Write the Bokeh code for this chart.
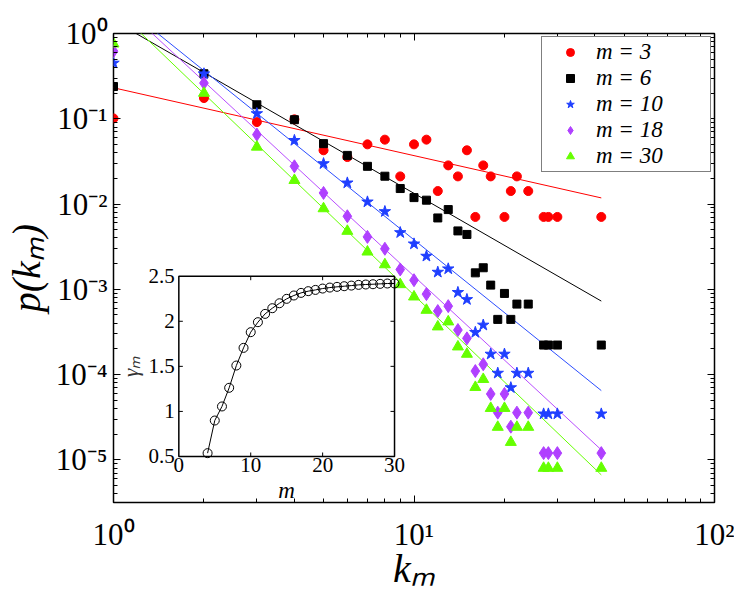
from bokeh.plotting import figure
from bokeh.models import (Range1d, LinearScale, LogAxis, FixedTicker, CustomJSTickFormatter,
                          Legend, LegendItem)
from bokeh.core.properties import value
from bokeh.embed import file_html
from bokeh.resources import INLINE
import math

FONT = "Liberation Serif"

# ---------------- data ----------------
k_m3 = [1, 2, 3, 4, 5, 6, 7, 8, 9, 10, 11, 12, 13, 14, 15, 16, 17, 18, 20, 21, 22, 24, 27, 28, 30, 42]
p_m3 = [0.101, 0.175, 0.0914, 0.0984, 0.0427, 0.0356, 0.0501, 0.0569, 0.0211, 0.0501, 0.0569, 0.0142,
        0.0284, 0.0211, 0.0427, 0.00706, 0.0284, 0.0211, 0.00706, 0.0142, 0.0211, 0.0142,
        0.00706, 0.00706, 0.00706, 0.00706]

k_all = [1, 2, 3, 4, 5, 6, 7, 8, 9, 10, 11, 12, 13, 14, 15, 16, 17, 18, 19, 20, 21, 22, 24, 27, 28, 30, 42]
p_m6 = [0.239, 0.337, 0.146, 0.0975, 0.0511, 0.0372, 0.0277, 0.0212, 0.0152, 0.0119, 0.0111, 0.00687,
        0.00861, 0.00484, 0.00440, 0.00156, 0.00179, 0.00112, 0.000444, 0.000895, 0.000444, 0.000671,
        0.000671, 0.000222, 0.000222, 0.000222, 0.000222]
p_m10 = [0.450, 0.337, 0.115, 0.0558, 0.0298, 0.0177, 0.0106, 0.00817, 0.00463, 0.00341, 0.00245,
         0.00159, 0.00174, 0.00092, 0.00076, 0.000313, 0.000381, 0.000174, 0.000104, 0.000174,
         0.0000703, 0.000104, 0.000104, 0.0000346, 0.0000346, 0.0000346, 0.0000346]
p_m18 = [0.621, 0.262, 0.0652, 0.0277, 0.0135, 0.00719, 0.00412, 0.00299, 0.00171, 0.00128, 0.000879,
         0.000556, 0.000635, 0.000333, 0.000266, 0.000110, 0.000132, 0.0000593, 0.0000358, 0.0000593,
         0.0000245, 0.0000358, 0.0000358, 0.0000120, 0.0000120, 0.0000120, 0.0000120]
p_m30 = [0.757, 0.200, 0.0467, 0.0190, 0.00885, 0.00481, 0.00275, 0.00195, 0.00114, 0.000817, 0.000570,
         0.000364, 0.000417, 0.000212, 0.000174, 0.0000710, 0.0000881, 0.0000403, 0.0000242, 0.0000403,
         0.0000161, 0.0000242, 0.0000242, 0.0000080, 0.0000080, 0.0000080, 0.0000080]

# fitted power-law lines (end points)
fit_k = [1, 42]
fit_m3 = [0.231, 0.0118]
fit_m6 = [1.42, 0.000728]
fit_m10 = [2.62, 0.0000649]
fit_m18 = [2.64, 0.0000131]
fit_m30 = [2.05, 0.00000667]

legend_labels = ["m = 3", "m = 6", "m = 10", "m = 18", "m = 30"]

# inset: exponent gamma_m versus m
inset_m = list(range(4, 31))
inset_gamma = [0.537, 0.899, 1.055, 1.262, 1.509, 1.705, 1.879, 1.99, 2.082, 2.145, 2.2, 2.249, 2.286,
               2.315, 2.334, 2.348, 2.363, 2.374, 2.382, 2.389, 2.396, 2.404, 2.408, 2.411, 2.415,
               2.419, 2.419]
inset_xticks = [0, 10, 20, 30]
inset_yticks = [0.5, 1, 1.5, 2, 2.5]

x_major = [1, 10, 100]
y_major = [10.0 ** e for e in range(-5, 1)]

# ---------------- main figure ----------------
FW, FH = 601, 469
p = figure(x_axis_type="log", y_axis_type="log",
           x_range=Range1d(1, 100), y_range=Range1d(10 ** -5.5, 1),
           output_backend="svg", toolbar_location=None,
           frame_width=FW, frame_height=FH,
           min_border_left=110, min_border_right=20, min_border_top=33, min_border_bottom=72)
p.grid.visible = False
p.outline_line_color = "black"
p.outline_line_width = 1.5
p.background_fill_color = "white"
p.border_fill_color = "white"

sup_code = """
const sup = {"-":"\u207b","0":"\u2070","1":"\u00b9","2":"\u00b2","3":"\u00b3","4":"\u2074",
             "5":"\u2075","6":"\u2076","7":"\u2077","8":"\u2078","9":"\u2079"};
const e = Math.round(Math.log10(tick));
return "10" + String(e).split("").map(c => sup[c]).join("");
"""

xt = FixedTicker(ticks=x_major, minor_ticks=[d * m for d in x_major[:-1] for m in range(2, 10)])
yt = FixedTicker(ticks=y_major, minor_ticks=[m * 10.0 ** e for e in range(-6, 0) for m in range(2, 10)])

xb = p.below[0]
yl = p.left[0]
xb.ticker = xt
yl.ticker = yt
xb.formatter = CustomJSTickFormatter(code=sup_code)
yl.formatter = CustomJSTickFormatter(code=sup_code)

xa = LogAxis(ticker=xt, major_label_text_font_size="6px", major_label_text_color=None,
             major_label_standoff=0)
yr = LogAxis(ticker=yt, major_label_text_font_size="6px", major_label_text_color=None,
             major_label_standoff=0)
p.add_layout(xa, "above")
p.add_layout(yr, "right")

for ax in (xb, yl, xa, yr):
    ax.axis_line_color = None
    ax.major_tick_in = 7
    ax.major_tick_out = 0
    ax.minor_tick_in = 4
    ax.minor_tick_out = 0
    ax.major_tick_line_color = "black"
    ax.minor_tick_line_color = "black"
    ax.major_tick_line_width = 1
    ax.minor_tick_line_width = 1

for ax in (xb, yl):
    ax.major_label_text_font = FONT
    ax.major_label_text_font_size = "31px"
    ax.major_label_text_color = "black"
    ax.axis_label_text_font = FONT
    ax.axis_label_text_font_style = "italic"
    ax.axis_label_text_font_size = "40px"
    ax.axis_label_text_color = "black"

xb.major_label_standoff = 14
xb.axis_label = "k\u2098"
xb.axis_label_standoff = -9
yl.major_label_standoff = 6
yl.axis_label = "p(k\u2098)"
yl.axis_label_standoff = 4

# fit lines
line_specs = [(fit_m3, "#ff0000"), (fit_m6, "#000000"), (fit_m10, "#2b4dff"),
              (fit_m18, "#b84dff"), (fit_m30, "#66ff00")]
for fy, col in line_specs:
    p.line(fit_k, fy, line_color=col, line_width=1)

# markers
r3 = p.scatter(k_m3, p_m3, marker="circle", size=9, fill_color="#ff0000", line_color="#ff0000")
r6 = p.scatter(k_all, p_m6, marker="square", size=8, fill_color="#000000", line_color="#000000")
r10 = p.scatter(k_all, p_m10, marker="star", size=12, fill_color="#1f3fff", line_color="#1f3fff")
r18 = p.scatter(k_all, p_m18, marker="diamond", size=13, fill_color="#b040ff", line_color="#b040ff")
r30 = p.scatter(k_all, p_m30, marker="triangle", size=11, fill_color="#66ff00", line_color="#66ff00")

legend = Legend(items=[LegendItem(label=lab, renderers=[r]) for lab, r in
                       zip(legend_labels, [r3, r6, r10, r18, r30])],
                location="top_right", margin=3, padding=2, spacing=0,
                glyph_width=52, glyph_height=20, label_standoff=0, label_width=112,
                label_text_font=FONT, label_text_font_style="italic", label_text_font_size="23px",
                label_text_color="black", border_line_color="black", border_line_width=1,
                background_fill_color="white", background_fill_alpha=1)
p.add_layout(legend)

# ---------------- inset (own linear scales inside the main frame) ----------------
# inset frame placement as fractions of the main frame
IX0, IX1, IY0, IY1 = 0.1087, 0.4676, 0.0981, 0.4825
xr_span = (inset_xticks[-1] - inset_xticks[0]) / (IX1 - IX0)
yr_span = (inset_yticks[-1] - inset_yticks[0]) / (IY1 - IY0)
ix0 = inset_xticks[0] - IX0 * xr_span
iy0 = inset_yticks[0] - IY0 * yr_span
p.extra_x_ranges = {"ix": Range1d(ix0, ix0 + xr_span)}
p.extra_y_ranges = {"iy": Range1d(iy0, iy0 + yr_span)}
p.extra_x_scales = {"ix": LinearScale()}
p.extra_y_scales = {"iy": LinearScale()}
px_x = FW / xr_span  # pixels per inset x unit
px_y = FH / yr_span  # pixels per inset y unit
kw = dict(x_range_name="ix", y_range_name="iy")

ixa, ixb = inset_xticks[0], inset_xticks[-1]
iya, iyb = inset_yticks[0], inset_yticks[-1]
p.quad(left=[ixa], right=[ixb], bottom=[iya], top=[iyb], fill_color="white",
       line_color="black", line_width=1.5, **kw)

tl = 4.0
inner_x = inset_xticks[1:-1]
inner_y = inset_yticks[1:-1]
p.segment(x0=inner_x + inner_x, x1=inner_x + inner_x,
          y0=[iya] * len(inner_x) + [iyb] * len(inner_x),
          y1=[iya + tl / px_y] * len(inner_x) + [iyb - tl / px_y] * len(inner_x),
          line_color="black", line_width=1, **kw)
p.segment(y0=inner_y + inner_y, y1=inner_y + inner_y,
          x0=[ixa] * len(inner_y) + [ixb] * len(inner_y),
          x1=[ixa + tl / px_x] * len(inner_y) + [ixb - tl / px_x] * len(inner_y),
          line_color="black", line_width=1, **kw)

p.line(inset_m, inset_gamma, line_color="black", line_width=1, **kw)
p.scatter(inset_m, inset_gamma, marker="circle", size=9, fill_color=None,
          line_color="black", line_width=1, **kw)

p.text(x=[ixa] * len(inset_yticks), y=inset_yticks, text=[f"{t:g}" for t in inset_yticks],
       x_offset=-4, text_align="right", text_baseline="middle",
       text_font=value(FONT), text_font_size="21px", text_color="black", **kw)
p.text(x=inset_xticks, y=[iya] * len(inset_xticks), text=[f"{t:g}" for t in inset_xticks],
       y_offset=2, text_align="center", text_baseline="top",
       text_font=value(FONT), text_font_size="21px", text_color="black", **kw)
p.text(x=[(ixa + ixb) / 2], y=[iya], text=["m"], y_offset=22, text_align="center",
       text_baseline="top", text_font=value(FONT), text_font_style="italic",
       text_font_size="23px", text_color="black", **kw)
p.text(x=[ixa], y=[(iya + iyb) / 2], text=["\u03b3\u2098"], x_offset=-48, angle=math.pi / 2,
       text_align="center", text_baseline="middle", text_font=value(FONT),
       text_font_style="italic", text_font_size="21px", text_color="#333333", **kw)

open("out.html", "w", encoding="utf-8").write(file_html(p, INLINE))
